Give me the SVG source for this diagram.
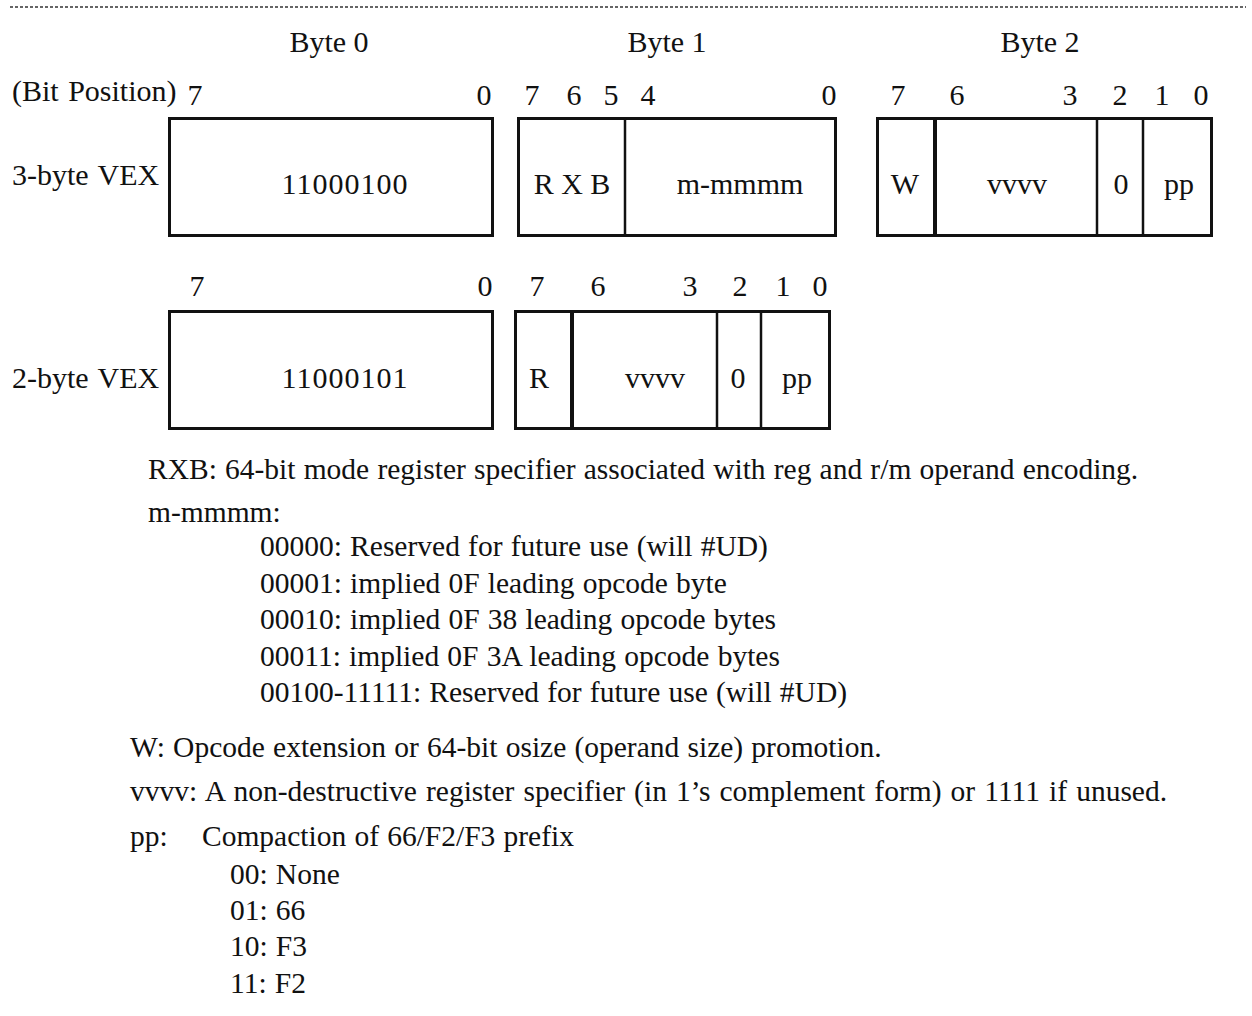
<svg xmlns="http://www.w3.org/2000/svg" width="1252" height="1016" viewBox="0 0 1252 1016">
<style>
text{font-family:"Liberation Serif","Times New Roman",serif;fill:#111;font-size:30px}
.c{text-anchor:middle}
.b{font-size:29.5px;word-spacing:0.8px}
.box{fill:#fff;stroke:#111;stroke-width:3}
.div{stroke:#111;stroke-width:2.5}
.thick{stroke:#111;stroke-width:4}
</style>
<rect width="1252" height="1016" fill="#fff"/>
<line x1="10" y1="7" x2="1246" y2="7" stroke="#333" stroke-width="1.5" stroke-dasharray="3 2"/>

<g id="headers">
<text class="c" x="329" y="52">Byte 0</text>
<text class="c" x="667" y="52">Byte 1</text>
<text class="c" x="1040" y="52">Byte 2</text>
</g>

<g id="row3-bits">
<text x="12" y="101" word-spacing="2">(Bit Position)</text>
<text class="c" x="195" y="105">7</text>
<text class="c" x="484" y="105">0</text>
<text class="c" x="532" y="105">7</text>
<text class="c" x="574" y="105">6</text>
<text class="c" x="611" y="105">5</text>
<text class="c" x="648" y="105">4</text>
<text class="c" x="829" y="105">0</text>
<text class="c" x="898" y="105">7</text>
<text class="c" x="957" y="105">6</text>
<text class="c" x="1070" y="105">3</text>
<text class="c" x="1120" y="105">2</text>
<text class="c" x="1162" y="105">1</text>
<text class="c" x="1201" y="105">0</text>
</g>

<g id="vex3">
<text x="12" y="185" word-spacing="2">3-byte VEX</text>
<g id="vex3-byte0">
<rect class="box" x="169.5" y="118.5" width="323" height="117"/>
<text class="c" x="345" y="194" letter-spacing="1">11000100</text>
</g>
<g id="vex3-byte1">
<rect class="box" x="518.5" y="118.5" width="317" height="117"/>
<line class="div" x1="625" y1="118" x2="625" y2="236"/>
<text class="c" x="572" y="194">R X B</text>
<text class="c" x="740" y="194">m-mmmm</text>
</g>
<g id="vex3-byte2">
<rect class="box" x="877.5" y="118.5" width="334" height="117"/>
<line class="thick" x1="935" y1="118" x2="935" y2="236"/>
<line class="div" x1="1097" y1="118" x2="1097" y2="236"/>
<line class="div" x1="1143" y1="118" x2="1143" y2="236"/>
<text class="c" x="905" y="194">W</text>
<text class="c" x="1017" y="194">vvvv</text>
<text class="c" x="1121" y="194">0</text>
<text class="c" x="1179" y="194">pp</text>
</g>
</g>

<g id="row2-bits">
<text class="c" x="197" y="296">7</text>
<text class="c" x="485" y="296">0</text>
<text class="c" x="537" y="296">7</text>
<text class="c" x="598" y="296">6</text>
<text class="c" x="690" y="296">3</text>
<text class="c" x="740" y="296">2</text>
<text class="c" x="783" y="296">1</text>
<text class="c" x="820" y="296">0</text>
</g>

<g id="vex2">
<text x="12" y="388" word-spacing="2">2-byte VEX</text>
<g id="vex2-byte0">
<rect class="box" x="169.5" y="311.5" width="323" height="117"/>
<text class="c" x="345" y="388" letter-spacing="1">11000101</text>
</g>
<g id="vex2-byte1">
<rect class="box" x="515.5" y="311.5" width="314" height="117"/>
<line class="thick" x1="572" y1="311" x2="572" y2="429"/>
<line class="div" x1="717" y1="311" x2="717" y2="429"/>
<line class="div" x1="761" y1="311" x2="761" y2="429"/>
<text class="c" x="539" y="388">R</text>
<text class="c" x="655" y="388">vvvv</text>
<text class="c" x="738" y="388">0</text>
<text class="c" x="797" y="388">pp</text>
</g>
</g>

<g id="legend">
<text class="b" x="148" y="479">RXB: 64-bit mode register specifier associated with reg and r/m operand encoding.</text>
<text class="b" x="148" y="522">m-mmmm:</text>
<text class="b" x="260" y="556">00000: Reserved for future use (will #UD)</text>
<text class="b" x="260" y="593">00001: implied 0F leading opcode byte</text>
<text class="b" x="260" y="629">00010: implied 0F 38 leading opcode bytes</text>
<text class="b" x="260" y="666">00011: implied 0F 3A leading opcode bytes</text>
<text class="b" x="260" y="702">00100-11111: Reserved for future use (will #UD)</text>
<text class="b" x="130" y="757">W: Opcode extension or 64-bit osize (operand size) promotion.</text>
<text class="b" x="130" y="801" style="word-spacing:1.7px">vvvv: A non-destructive register specifier (in 1’s complement form) or 1111 if unused.</text>
<text class="b" x="130" y="846">pp:</text>
<text class="b" x="202" y="846">Compaction of 66/F2/F3 prefix</text>
<text class="b" x="230" y="884">00: None</text>
<text class="b" x="230" y="920">01: 66</text>
<text class="b" x="230" y="956">10: F3</text>
<text class="b" x="230" y="993">11: F2</text>
</g>
</svg>
